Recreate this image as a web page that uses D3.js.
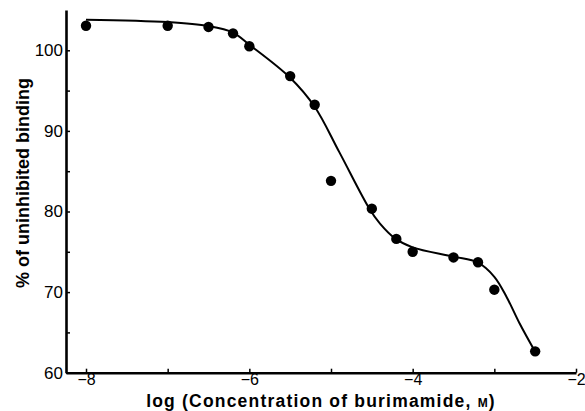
<!DOCTYPE html>
<html><head><meta charset="utf-8">
<script src="https://cdn.jsdelivr.net/npm/d3@7"></script>
<style>
body{margin:0;background:#fff;}
svg{display:block;font-family:"Liberation Sans",Arial,Helvetica,sans-serif;}
</style></head>
<body>
<svg id="chart" width="585" height="411"></svg>
<script>
const pointX = [-8, -7, -6.5, -6.2, -6, -5.5, -5.2, -5, -4.5, -4.2, -4, -3.5, -3.2, -3, -2.5];
const pointY = [103.05, 103.05, 102.9, 102.1, 100.5, 96.8, 93.25, 83.8, 80.35, 76.6, 75.0, 74.3, 73.7, 70.3, 62.65];
const curveX = [-8, -7, -6.5, -6.2, -6, -5.5, -5.2, -4.9, -4.53, -4.4, -4.22, -4, -3.5, -3.2, -3, -2.85, -2.69, -2.5];
const curveY = [103.8, 103.5, 103.0, 102.2, 100.7, 96.6, 93.0, 87.4, 80.35, 78.5, 76.7, 75.55, 74.4, 73.65, 71.9, 69.4, 66.1, 62.6];
const xTicks = [-8, -7, -6, -5, -4, -3, -2];
const xTickLabels = ["−8", "", "−6", "", "−4", "", "−2"];
const yTicks = [60, 65, 70, 75, 80, 85, 90, 95, 100];
const yTickLabels = ["60", "", "70", "", "80", "", "90", "", "100"];
const xTitle = "log (Concentration of burimamide, ";
const xTitleUnit = "M";
const yTitle = "% of uninhibited binding";

const svg = d3.select("#chart");
const x = d3.scaleLinear().domain([-8.245, -2]).range([66, 576]);
const y = d3.scaleLinear().domain([60, 105]).range([372.7, 10]);

const xAxis = d3.axisBottom(x).tickValues(xTicks).tickSizeInner(-4).tickSizeOuter(0).tickPadding(1)
  .tickFormat((d,i)=>xTickLabels[i]);
const gx = svg.append("g").attr("transform","translate(0,372.7)").call(xAxis);
const yAxis = d3.axisLeft(y).tickValues(yTicks).tickSizeInner(-4).tickSizeOuter(0).tickPadding(3)
  .tickFormat((d,i)=>yTickLabels[i]);
const gy = svg.append("g").attr("transform","translate(66,0)").call(yAxis);
[gx,gy].forEach(g=>{
  g.select(".domain").attr("stroke","#000").attr("stroke-width",2.6);
  g.selectAll(".tick line").attr("stroke","#000").attr("stroke-width",1.5);
  g.selectAll(".tick text").attr("fill","#000").style("font-size","17px").style("font-family","'Liberation Sans',Arial,sans-serif");
});
gx.selectAll(".tick text").style("font-size","16px");

const line = d3.line().x(d=>x(d[0])).y(d=>y(d[1])).curve(d3.curveCatmullRom.alpha(0.5));
svg.append("path").datum(curveX.map((v,i)=>[v,curveY[i]]))
  .attr("d",line).attr("fill","none").attr("stroke","#000").attr("stroke-width",2);

svg.append("g").selectAll("circle").data(pointX.map((v,i)=>[v,pointY[i]])).join("circle")
  .attr("cx",d=>x(d[0])).attr("cy",d=>y(d[1])).attr("r",5.2).attr("fill","#000");

const t = svg.append("text").attr("x",321).attr("y",407).attr("text-anchor","middle")
  .style("font-size","17.5px").style("font-weight","bold").style("letter-spacing","1.2px").attr("fill","#000");
t.append("tspan").text(xTitle);
t.append("tspan").style("font-size","12px").text(xTitleUnit);
t.append("tspan").text(")");

svg.append("text").attr("transform","translate(29,183) rotate(-90)").attr("text-anchor","middle")
  .style("font-size","18px").style("font-weight","bold").attr("fill","#000").text(yTitle);
</script>
</body></html>
